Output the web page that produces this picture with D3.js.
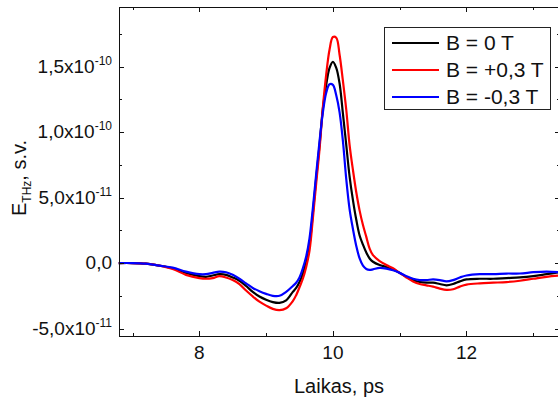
<!DOCTYPE html>
<html lang="en">
<head>
  <meta charset="UTF-8">
  <title>THz pulse</title>
  <script src="https://d3js.org/d3.v7.min.js" charset="utf-8"></script>
  <style>
    body { margin: 0; background: #fff; }
    text { font-family: Arial, "Liberation Sans", sans-serif; fill: #111; }
    .axis path, .axis line { fill: none; stroke: #111; stroke-width: 1; shape-rendering: crispEdges; }
  </style>
</head>
<body>
<div class="div1"></div>
<script>
  // time, ps
  var times = [6.79, 7.0, 7.2, 7.4, 7.6, 7.8, 8.0, 8.1, 8.2, 8.3, 8.4, 8.5, 8.6, 8.7, 8.8, 8.9, 9.0, 9.1, 9.2, 9.3, 9.4, 9.45,
    9.5, 9.55, 9.6, 9.65, 9.7, 9.75, 9.8, 9.85, 9.9, 9.95, 10.0, 10.05, 10.1, 10.15, 10.2, 10.25, 10.3, 10.35, 10.4, 10.45,
    10.5, 10.55, 10.6, 10.7, 10.8, 10.9, 11.0, 11.1, 11.2, 11.3, 11.4, 11.5, 11.6, 11.7, 11.8, 11.9, 12.0, 12.2, 12.4,
    12.6, 12.8, 13.0, 13.2, 13.4]
  // E_THz in units of 1e-11
  var field0 = [0, 0, -0.05, -0.2, -0.4, -0.75, -1.0, -1.05, -0.95, -0.85, -0.9, -1.1, -1.35, -1.75, -2.2, -2.55, -2.8, -2.98, -3.04, -2.85, -2.2, -1.9,
    -1.45, -0.8, 0.1, 1.4, 3.8, 6.5, 9.0, 11.8, 13.6, 14.9, 15.35, 14.9, 13.7, 11.4, 9.0, 6.6, 4.8, 3.3, 2.1, 1.4,
    0.8, 0.35, 0.1, -0.15, -0.3, -0.5, -0.75, -1.05, -1.3, -1.45, -1.5, -1.5, -1.6, -1.7, -1.6, -1.4, -1.25, -1.2, -1.2,
    -1.15, -1.1, -1.0, -0.85, -0.7]
  var fieldPlus = [0, 0, -0.05, -0.2, -0.45, -0.9, -1.15, -1.2, -1.15, -1.0, -1.1, -1.3, -1.6, -2.1, -2.55, -2.95, -3.25, -3.5, -3.6, -3.45, -2.9, -2.45,
    -1.85, -1.2, -0.3, 0.95, 3.4, 6.1, 8.7, 11.9, 14.4, 16.3, 17.25, 17.2, 15.9, 13.9, 11.7, 9.0, 7.1, 5.4, 4.0, 2.9,
    2.0, 1.1, 0.6, 0.15, -0.15, -0.4, -0.75, -1.1, -1.4, -1.6, -1.7, -1.8, -1.95, -2.05, -2.0, -1.8, -1.65, -1.55, -1.5,
    -1.45, -1.35, -1.2, -1.05, -0.95]
  var fieldMinus = [0, 0, -0.05, -0.2, -0.35, -0.65, -0.85, -0.85, -0.75, -0.65, -0.7, -0.9, -1.2, -1.55, -1.9, -2.15, -2.35, -2.5, -2.5, -2.2, -1.75, -1.5,
    -1.1, -0.4, 0.5, 1.9, 4.2, 6.8, 9.3, 11.5, 13.0, 13.65, 13.6, 12.8, 11.5, 9.3, 6.4, 4.1, 2.6, 1.3, 0.35, -0.2,
    -0.45, -0.52, -0.48, -0.37, -0.42, -0.55, -0.75, -1.0, -1.2, -1.3, -1.3, -1.25, -1.3, -1.4, -1.3, -1.1, -0.95, -0.85, -0.85,
    -0.8, -0.8, -0.7, -0.65, -0.7]

  var seriesNames = ['B = 0 T', 'B = +0,3 T', 'B = -0,3 T']
  var colors = ['#000000', '#ff0000', '#0000ff']
  var xMajor = [8, 10, 12]
  var xMinor = [7, 9, 11, 13]
  var yMajor = [-5, 0, 5, 10, 15]
  var yMinor = [-2.5, 2.5, 7.5, 12.5, 17.5]
  var yTickMant = ['-5,0', '0,0', '5,0', '1,0', '1,5']
  var yTickExp = ['-11', '', '-11', '-10', '-10']

  var width = 558
  var height = 403
  var plotL = 118.5, plotR = 560, plotT = 6.5, plotB = 335.5

  var svg = d3.select('.div1')
    .append('svg')
    .attr('width', width)
    .attr('height', height)

  var x = d3.scaleLinear().domain([6.79, 13.4]).range([plotL, plotR])
  var y = d3.scaleLinear().domain([-5.53, 19.58]).range([plotB, plotT])

  // curves: black, red, then blue on top
  var allSeries = [field0, fieldPlus, fieldMinus]
  var line = d3.line()
    .x((d, i) => x(times[i]))
    .y(d => y(d))
    .curve(d3.curveCatmullRom.alpha(0.5))

  svg.append('clipPath').attr('id', 'clip')
    .append('rect').attr('x', plotL).attr('y', plotT).attr('width', plotR - plotL).attr('height', plotB - plotT)

  svg.append('g').attr('clip-path', 'url(#clip)')
    .selectAll('path')
    .data(allSeries)
    .enter()
    .append('path')
    .attr('d', d => line(d))
    .attr('fill', 'none')
    .attr('stroke', (d, i) => colors[i])
    .attr('stroke-width', 2.2)
    .attr('stroke-linejoin', 'round')

  // frame + inward ticks
  function addAxis(axisFn, transform, values, size) {
    svg.append('g')
      .attr('class', 'axis')
      .attr('transform', transform)
      .call(axisFn.tickValues(values).tickSizeInner(-size).tickSizeOuter(0).tickFormat(''))
  }
  addAxis(d3.axisBottom(x), 'translate(0,' + plotB + ')', xMajor, 5)
  addAxis(d3.axisBottom(x), 'translate(0,' + plotB + ')', xMinor, 3)
  addAxis(d3.axisTop(x), 'translate(0,' + plotT + ')', xMajor, 5)
  addAxis(d3.axisTop(x), 'translate(0,' + plotT + ')', xMinor, 3)
  addAxis(d3.axisLeft(y), 'translate(' + plotL + ',0)', yMajor, 5)
  addAxis(d3.axisLeft(y), 'translate(' + plotL + ',0)', yMinor, 3)
  addAxis(d3.axisRight(y), 'translate(' + plotR + ',0)', yMajor, 5)
  addAxis(d3.axisRight(y), 'translate(' + plotR + ',0)', yMinor, 3)

  // x tick labels
  svg.selectAll('.xlab')
    .data(xMajor)
    .enter()
    .append('text')
    .attr('class', 'xlab')
    .attr('x', d => x(d))
    .attr('y', 359)
    .attr('text-anchor', 'middle')
    .attr('font-size', 19)
    .text(d => d)

  // y tick labels with superscript exponent
  var ylab = svg.selectAll('.ylab')
    .data(yMajor)
    .enter()
    .append('text')
    .attr('class', 'ylab')
    .attr('x', 112)
    .attr('y', d => y(d) + 6)
    .attr('text-anchor', 'end')
    .attr('font-size', 19)
  ylab.append('tspan').text((d, i) => yTickExp[i] ? yTickMant[i] + 'x10' : yTickMant[i])
  ylab.filter((d, i) => yTickExp[i] !== '')
    .append('tspan')
    .attr('font-size', 12)
    .attr('dy', -8)
    .text(d => yTickExp[yMajor.indexOf(d)])

  // axis titles
  svg.append('text')
    .attr('x', 339)
    .attr('y', 393)
    .attr('text-anchor', 'middle')
    .attr('font-size', 20)
    .text('Laikas, ps')

  var ytitle = svg.append('text')
    .attr('transform', 'translate(26,178) rotate(-90)')
    .attr('text-anchor', 'middle')
    .attr('font-size', 20)
  ytitle.append('tspan').text('E')
  ytitle.append('tspan').attr('font-size', 12).attr('dy', 5).text('THz')
  ytitle.append('tspan').attr('dy', -5).text(', s.v.')

  // legend
  var lg = svg.append('g')
  lg.append('rect')
    .attr('x', 384.5).attr('y', 27.5)
    .attr('width', 166).attr('height', 82)
    .attr('fill', '#fff').attr('stroke', '#222').attr('stroke-width', 1)
  lg.selectAll('.lgline')
    .data(seriesNames)
    .enter()
    .append('line')
    .attr('x1', 392).attr('x2', 439)
    .attr('y1', (d, i) => 43 + i * 27).attr('y2', (d, i) => 43 + i * 27)
    .attr('stroke', (d, i) => colors[i])
    .attr('stroke-width', 2)
  lg.selectAll('.lgtext')
    .data(seriesNames)
    .enter()
    .append('text')
    .attr('x', 446)
    .attr('y', (d, i) => 43 + i * 27 + 7)
    .attr('font-size', 21)
    .text(d => d)
</script>
</body>
</html>
